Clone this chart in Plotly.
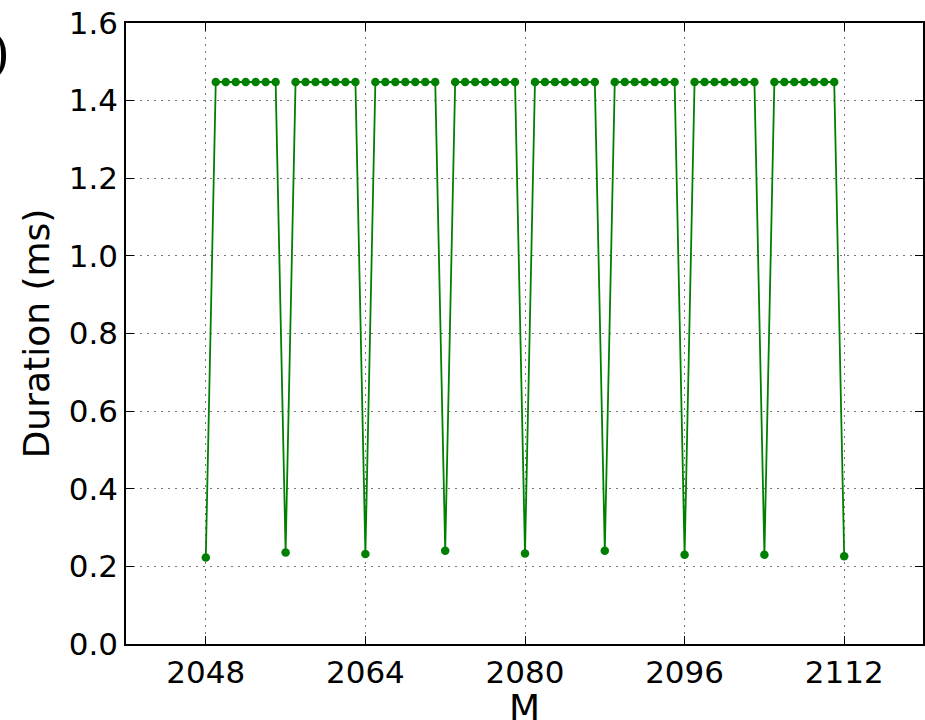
import plotly.graph_objects as go

# Problem size M and measured duration (ms)
m_values = [
    2048, 2049, 2050, 2051, 2052, 2053, 2054, 2055,
    2056, 2057, 2058, 2059, 2060, 2061, 2062, 2063,
    2064, 2065, 2066, 2067, 2068, 2069, 2070, 2071,
    2072, 2073, 2074, 2075, 2076, 2077, 2078, 2079,
    2080, 2081, 2082, 2083, 2084, 2085, 2086, 2087,
    2088, 2089, 2090, 2091, 2092, 2093, 2094, 2095,
    2096, 2097, 2098, 2099, 2100, 2101, 2102, 2103,
    2104, 2105, 2106, 2107, 2108, 2109, 2110, 2111,
    2112,
]
duration_ms = [
    0.223, 1.448, 1.448, 1.448, 1.448, 1.448, 1.448, 1.448,
    0.236, 1.448, 1.448, 1.448, 1.448, 1.448, 1.448, 1.448,
    0.232, 1.448, 1.448, 1.448, 1.448, 1.448, 1.448, 1.448,
    0.240, 1.448, 1.448, 1.448, 1.448, 1.448, 1.448, 1.448,
    0.233, 1.448, 1.448, 1.448, 1.448, 1.448, 1.448, 1.448,
    0.240, 1.448, 1.448, 1.448, 1.448, 1.448, 1.448, 1.448,
    0.230, 1.448, 1.448, 1.448, 1.448, 1.448, 1.448, 1.448,
    0.230, 1.448, 1.448, 1.448, 1.448, 1.448, 1.448, 1.448,
    0.226,
]
x_ticks = [2048, 2064, 2080, 2096, 2112]
y_ticks = [0.0, 0.2, 0.4, 0.6, 0.8, 1.0, 1.2, 1.4, 1.6]

FONT = "DejaVu Sans"

fig = go.Figure()
fig.add_trace(go.Scatter(
    x=m_values,
    y=duration_ms,
    mode="lines+markers",
    line=dict(color="#008000", width=1.8),
    marker=dict(color="#008000", size=8.5),
    showlegend=False,
))

axis_common = dict(
    showline=True,
    linecolor="black",
    linewidth=1.5,
    mirror="ticks",
    ticks="inside",
    ticklen=8,
    tickwidth=1.2,
    tickcolor="black",
    showgrid=True,
    gridcolor="#777777",
    gridwidth=1.2,
    griddash="2px,5px",
    zeroline=False,
    tickfont=dict(family=FONT, size=31, color="black"),
)

fig.update_layout(
    width=925,
    height=720,
    margin=dict(l=126, r=0, t=23, b=76),
    paper_bgcolor="white",
    plot_bgcolor="white",
    xaxis=dict(
        range=[2040, 2119.9],
        tickvals=x_ticks,
        ticktext=[str(v) for v in x_ticks],
        **axis_common,
    ),
    yaxis=dict(
        range=[0, 1.6],
        tickvals=y_ticks,
        ticktext=[f"{v:.1f}" for v in y_ticks],
        title=dict(text="Duration (ms)", font=dict(family=FONT, size=36, color="black"), standoff=8),
        **axis_common,
    ),
    annotations=[
        # x-axis title, set just under the tick labels
        dict(
            text="M",
            xref="paper", yref="paper",
            x=0.5, y=-0.066,
            xanchor="center", yanchor="top",
            showarrow=False,
            font=dict(family=FONT, size=36, color="black"),
        ),
        # panel tag at the left edge
        dict(
            text="(b)",
            xref="paper", yref="paper",
            x=-0.143, y=1.0,
            xanchor="right", yanchor="top",
            showarrow=False,
            font=dict(family="DejaVu Serif", size=50, color="black"),
        ),
    ],
)

fig.write_html("out.html")
